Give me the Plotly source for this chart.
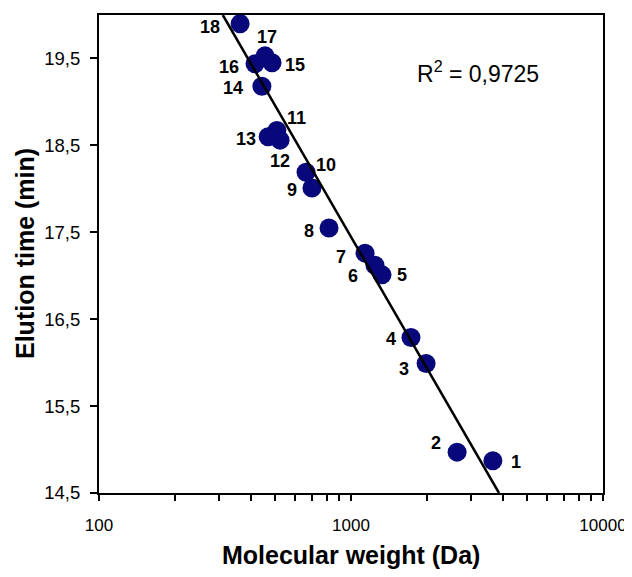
import plotly.graph_objects as go
import numpy as np

labels = ["1","2","3","4","5","6","7","8","9","10","11","12","13","14","15","16","17","18"]
mw = [3656, 2636, 1986, 1730, 1328, 1245, 1137, 818, 700, 663, 508, 523, 469, 443, 486, 416, 456, 363]
elution = [14.87, 14.97, 15.99, 16.29, 17.01, 17.12, 17.26, 17.55, 18.01, 18.19, 18.67, 18.56, 18.60, 19.18, 19.45, 19.44, 19.53, 19.90]
trend_x = [310, 3866]
trend_y = [20.0, 14.5]
r2_text = "R<sup>2</sup> = 0,9725"
x_major = [100, 1000, 10000]
x_major_text = ["100", "1000", "10000"]
x_minor = [200, 300, 400, 500, 600, 700, 800, 900, 2000, 3000, 4000, 5000, 6000, 7000, 8000, 9000]

# label offsets in pixels (dx, dy with dy positive downward)
offsets = [(23, 1), (-21, -9), (-22, 5), (-20, 2), (20, 0), (-22, 11), (-24, 4), (-20, 3),
           (-20, 2), (20, -7), (20, -13), (0, 21), (-22, 2), (-29, 2), (23, 2), (-26, 3),
           (2, -19), (-30, 3)]

FONT = "Liberation Sans, Arial"
PAGE_OFF = 8  # default body margin of the html page
W, H = 632 - PAGE_OFF, 577 - 2 * PAGE_OFF
L, R, T = 99 - PAGE_OFF, 29, 15 - PAGE_OFF
B = H - (493 - PAGE_OFF)
pw, ph = W - L - R, H - T - B

def px_x(px):  # screenshot pixel -> paper x
    return (px - PAGE_OFF - L) / pw

def px_y(py):  # screenshot pixel -> paper y
    return (H - B - (py - PAGE_OFF)) / ph

fig = go.Figure()
fig.add_trace(go.Scatter(x=mw, y=elution, mode="markers",
                         marker=dict(size=19, color="#08087a"), showlegend=False))
fig.add_trace(go.Scatter(x=trend_x, y=trend_y, mode="lines",
                         line=dict(color="black", width=2.5), showlegend=False))

for lab, xv, yv, (dx, dy) in zip(labels, mw, elution, offsets):
    fig.add_annotation(x=np.log10(xv), y=yv, text=lab, showarrow=False,
                       xshift=dx, yshift=-dy, xanchor="center", yanchor="middle",
                       font=dict(family=FONT, size=18, color="black", weight="bold"))

fig.add_annotation(x=px_x(478), y=px_y(72), xref="paper", yref="paper",
                   text=r2_text, showarrow=False, xanchor="center", yanchor="middle",
                   font=dict(family=FONT, size=23, color="black"))

# axis titles
fig.add_annotation(x=0.5, y=px_y(555), xref="paper", yref="paper",
                   text="Molecular weight (Da)", showarrow=False,
                   xanchor="center", yanchor="middle",
                   font=dict(family=FONT, size=25, color="black", weight="bold"))
fig.add_annotation(x=px_x(25), y=0.5, xref="paper", yref="paper",
                   text="Elution time (min)", showarrow=False, textangle=-90,
                   xanchor="center", yanchor="middle",
                   font=dict(family=FONT, size=25, color="black", weight="bold"))

fig.update_layout(
    width=W, height=H,
    margin=dict(l=L, r=R, t=T, b=B),
    plot_bgcolor="white", paper_bgcolor="white",
    separators=",.",
    font=dict(family=FONT, color="black"),
    xaxis=dict(type="log", range=[2, 4], tickmode="array",
               tickvals=x_major, ticktext=x_major_text,
               ticks="outside", ticklen=6, tickwidth=2, tickcolor="black",
               minor=dict(tickmode="array", tickvals=x_minor, ticks="outside",
                          ticklen=6, tickwidth=2, tickcolor="black", showgrid=False),
               showline=True, linecolor="black", linewidth=2, mirror=True,
               showgrid=False, zeroline=False, ticklabelstandoff=10,
               automargin=False, tickfont=dict(size=17)),
    yaxis=dict(range=[14.5, 20], tick0=14.5, dtick=1, tickformat=".1f",
               ticks="outside", ticklen=7, tickwidth=2, tickcolor="black",
               showline=True, linecolor="black", linewidth=2, mirror=True,
               showgrid=False, zeroline=False, ticklabelstandoff=6,
               automargin=False, tickfont=dict(size=18.5)),
)

fig.write_html("out.html")
